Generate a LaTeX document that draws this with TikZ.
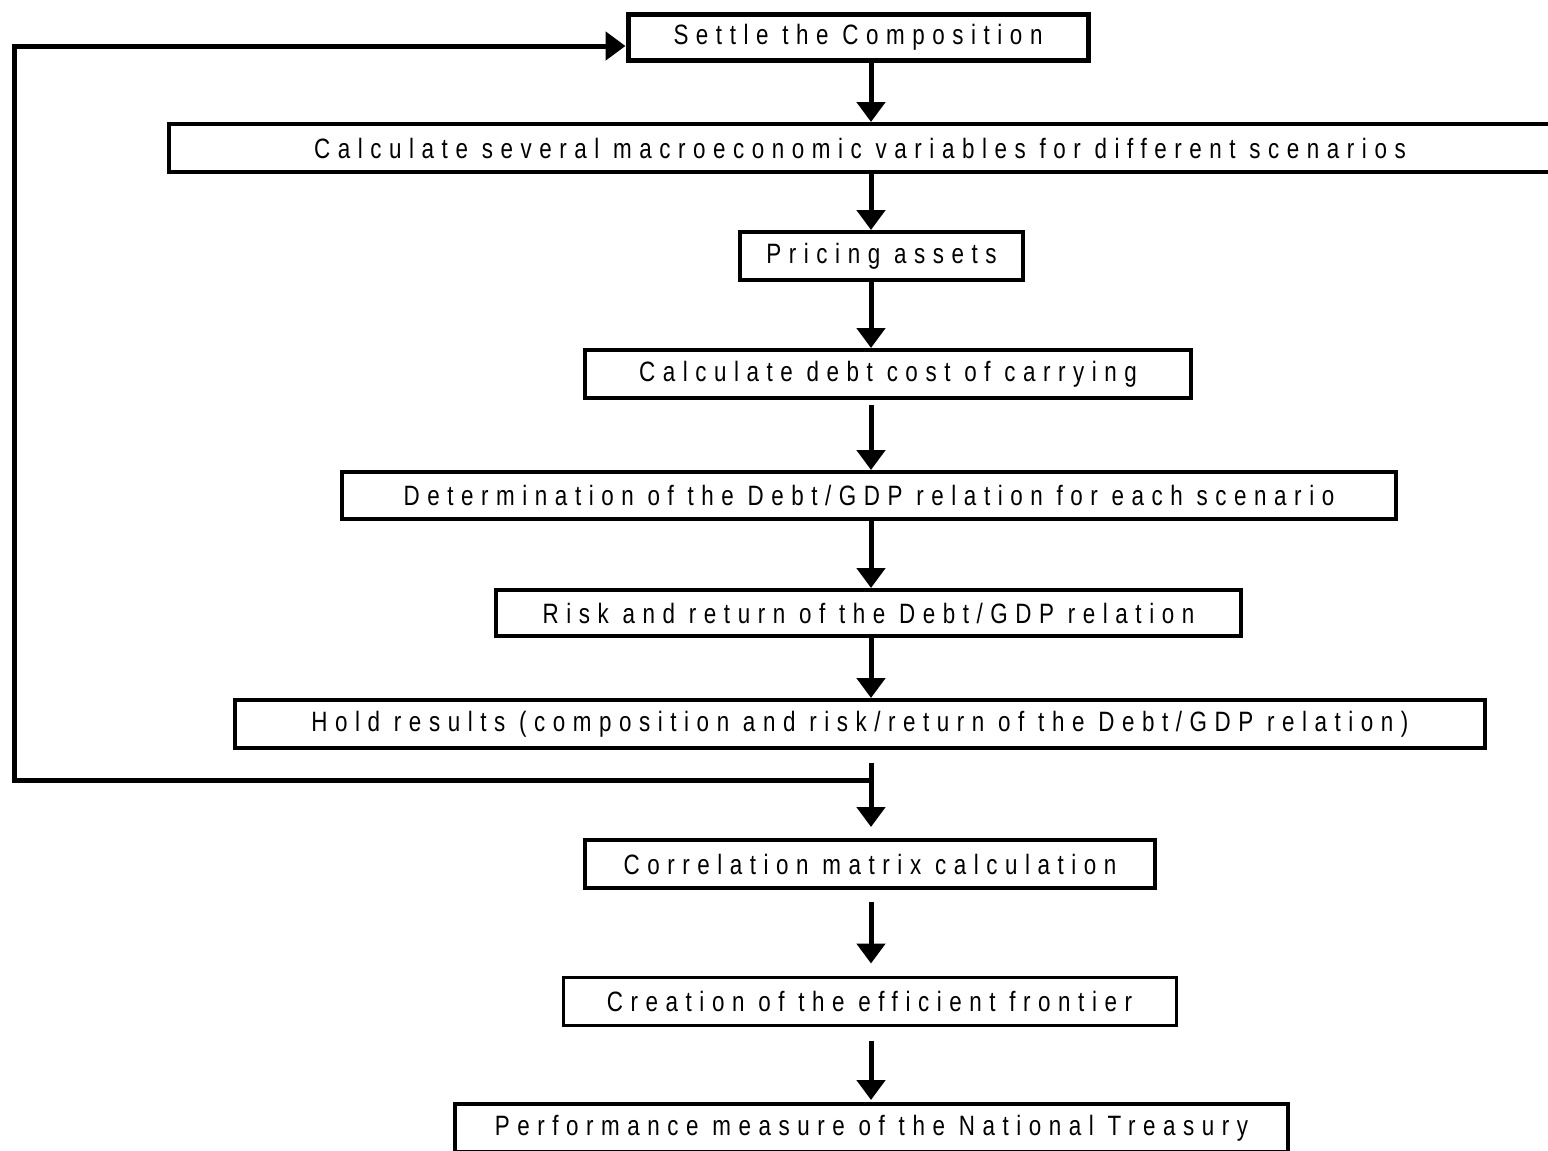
\documentclass[tikz,border=0pt]{standalone}
\usepackage{fontspec}
\setmainfont{Liberation Sans}[FakeStretch=0.8,LetterSpace=27]
\usepackage{tikz}
\usetikzlibrary{arrows.meta}

\begin{document}
\begin{tikzpicture}[x=.5pt,y=-.5pt,>={Triangle[width=14pt,length=10pt]},
    stage/.style={draw,line width=2pt,inner sep=0pt,minimum height=24pt,
      font=\fontsize{14}{16}\selectfont},
    flow/.style={->,line width=2.5pt}]
  % frame
  \useasboundingbox (0,0) rectangle (1548,1151);
  % stages
  \node[stage,line width=2.5pt,minimum width=230pt,minimum height=23pt] (settle) at (858,37) {Settle the Composition};
  \node[stage,minimum width=691pt] (macro) at (860,148) {Calculate several macroeconomic variables for different scenarios};
  \node[stage,minimum width=141.5pt] (pricing) at (881.5,256) {Pricing assets};
  \node[stage,minimum width=303pt] (debt) at (888,374) {Calculate debt cost of carrying};
  \node[stage,minimum width=527pt,minimum height=23.5pt] (ratio) at (869,495.5) {Determination of the Debt/GDP relation for each scenario};
  \node[stage,minimum width=372.5pt,minimum height=23pt] (risk) at (868.5,613) {Risk and return of the Debt/GDP relation};
  \node[stage,minimum width=625pt] (hold) at (860,724) {Hold results (composition and risk/return of the Debt/GDP relation)};
  \node[stage,minimum width=285pt] (corr) at (870,864) {Correlation matrix calculation};
  \node[stage,line width=1.5pt,minimum width=306.5pt] (frontier) at (869.5,1001) {Creation of the efficient frontier};
  \node[stage,minimum width=416.5pt] (treasury) at (871.5,1128) {Performance measure of the National Treasury};
  % arrows down the middle
  \coordinate (spine) at (871,0);
  \foreach \a/\b/\s/\e in {settle/macro/0/0,macro/pricing/0/0,pricing/debt/0/0,debt/ratio/2.5/0,
      ratio/risk/0/0,risk/hold/0/0,hold/corr/6.5/5.5,corr/frontier/6/6,frontier/treasury/7/1}
    \draw[flow,shorten <=\s pt,shorten >=\e pt] (\a.south -| spine) -- (\b.north -| spine);
  % feedback to the top
  \coordinate (fork) at (871,780);
  \coordinate (back) at (14,46);
  \draw[->,line width=2.5pt] (fork) -| (back) -- (back -| settle.west);
\end{tikzpicture}
\end{document}
